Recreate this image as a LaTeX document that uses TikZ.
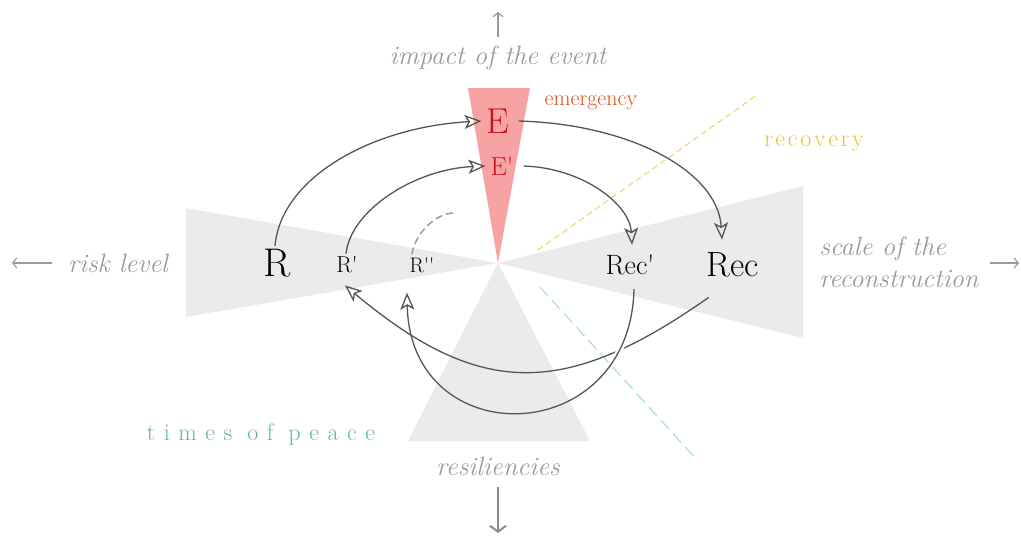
\documentclass[tikz,border=0pt]{standalone}
\usepackage{fontspec}
\usetikzlibrary{arrows.meta}
\definecolor{bggrey}{HTML}{EBEBEB}
\definecolor{redtri}{HTML}{F7A3A3}
\definecolor{ered}{HTML}{C8101E}
\definecolor{emerg}{HTML}{D9541A}
\definecolor{recov}{HTML}{E6C530}
\definecolor{peace}{HTML}{66B890}
\definecolor{lblgrey}{HTML}{9A9A9A}
\definecolor{conngrey}{HTML}{555555}
\definecolor{ydash}{HTML}{F0D060}
\definecolor{gdash}{HTML}{A8E0D2}
\newcommand\lspA{\kern 2.7pt}
\newcommand\lspB{\kern 8.5pt}
\newcommand\wspB{\kern 15pt}
\newcommand\prm{\textquotesingle}
\begin{document}
\begin{tikzpicture}[x=1pt,y=-1pt,
  axislbl/.style={text=lblgrey, inner sep=0pt, font=\fontsize{26.5}{32}\selectfont\itshape},
  axisarrow/.style={draw=lblgrey, line width=1.2pt, -{Straight Barb[length=4pt,width=10pt]}},
  letter/.style={inner sep=3pt, text=black},
  conn/.style={draw=conngrey, line width=1.3pt, -{Stealth[open,length=17pt,width=14pt,inset=4pt]}},
]
\useasboundingbox (0,0) rectangle (1021,536);
% regions
\fill[bggrey] (186,208) -- (498,263) -- (186,317) -- cycle;
\fill[bggrey] (803,186) -- (498,263) -- (803,338) -- cycle;
\fill[bggrey] (498,263) -- (590,441) -- (408,441) -- cycle;
\fill[redtri] (468,88) -- (530,88) -- (498,263) -- cycle;
% dashed phase lines
\draw[ydash, line width=1pt, dash pattern=on 6pt off 4pt] (538,250) -- (757,95);
\draw[gdash, line width=1.2pt, dash pattern=on 12pt off 6pt] (540,287) -- (697,460);
% axis labels
\node[axislbl] (impact) at (498,58) {impact of the event};
\node[axislbl, align=left] (risk) at (118,263) {risk level};
\node[axislbl, align=left] (scale) at (899,262) {scale of the\\reconstruction};
\node[axislbl] (resil) at (498,466) {resiliencies};
\coordinate (upstart) at (498,37);
\coordinate (upend) at (498,12);
\coordinate (leftend) at (12,263);
\coordinate (rightend) at (1019,263);
\coordinate (downstart) at (498,487);
\coordinate (downend) at (498,533);
\draw[axisarrow] (upstart) -- (upend);
\draw[axisarrow] ([xshift=-16pt]risk.west) -- (leftend);
\draw[axisarrow] ([xshift=11pt,yshift=-1pt]scale.east) -- (rightend);
\draw[draw=lblgrey!90!black, line width=2pt, -{Straight Barb[length=6pt,width=16pt]}] (downstart) -- (downend);
% phase labels
\node[text=emerg, inner sep=0pt, font=\fontsize{22}{24}\selectfont] (emergency) at (591,103) {emergency};
\node[text=recov, inner sep=0pt, font=\fontsize{24}{26}\selectfont] (recovery) at (814,144) {r\lspA e\lspA c\lspA o\lspA v\lspA e\lspA r\lspA y};
\node[text=peace, inner sep=0pt, font=\fontsize{24}{26}\selectfont] (peace) at (261,434) {t\lspB i\lspB m\lspB e\lspB s\wspB o\lspB f\wspB p\lspB e\lspB a\lspB c\lspB e};
% letters
\node[letter, text=ered, font=\fontsize{36}{36}\selectfont] (E) at (498,121) {E};
\node[letter, text=ered, font=\fontsize{26}{26}\selectfont] (Ep) at (502,166) {E\prm};
\node[letter, font=\fontsize{40}{40}\selectfont] (R) at (277,263) {R};
\node[letter, font=\fontsize{23}{23}\selectfont] (Rp) at (347,265) {R\prm};
\node[letter, font=\fontsize{21}{21}\selectfont] (Rpp) at (422,265) {R\prm\prm};
\node[letter, font=\fontsize{28}{28}\selectfont] (Recp) at (630,265) {Rec\prm};
\node[letter, font=\fontsize{35}{35}\selectfont] (Rec) at (733,265) {Rec};
% connectors
\draw[conn] ([xshift=-2pt]R.north) .. controls +(6,-68) and +(-110,6) .. ([xshift=-2pt]E.west);
\draw[conn] ([xshift=-1pt]Rp.north) .. controls +(5,-44) and +(-70,3) .. ([xshift=-2pt]Ep.west);
\coordinate (Rppend) at (454,213);
\draw[lblgrey, line width=1.5pt, dash pattern=on 7pt off 4pt] ([xshift=-10pt]Rpp.north) .. controls +(2,-18) and +(-20,0) .. (Rppend);
\draw[conn] ([xshift=6pt]E.east) .. controls +(112,3) and +(-4,-68) .. ([xshift=-11pt,yshift=10pt]Rec.north);
\draw[conn] ([xshift=7pt]Ep.east) .. controls +(60,2) and +(-2,-40) .. ([xshift=2pt,yshift=7pt]Recp.north);
\draw[conn] ([xshift=5pt,yshift=-17pt]Rec.south west) .. controls +(-144,101) and +(135,113) .. ([xshift=-2pt,yshift=-9pt]Rp.south);
\begin{scope}
\clip (598,330) rectangle (645,380);
\draw[white, line width=6pt] ([xshift=4pt,yshift=-11pt]Recp.south) .. controls +(-4,161) and +(3,162) .. ([xshift=-15pt,yshift=-17pt]Rpp.south);
\end{scope}
\draw[conn] ([xshift=4pt,yshift=-11pt]Recp.south) .. controls +(-4,161) and +(3,162) .. ([xshift=-15pt,yshift=-17pt]Rpp.south);
\end{tikzpicture}
\end{document}
